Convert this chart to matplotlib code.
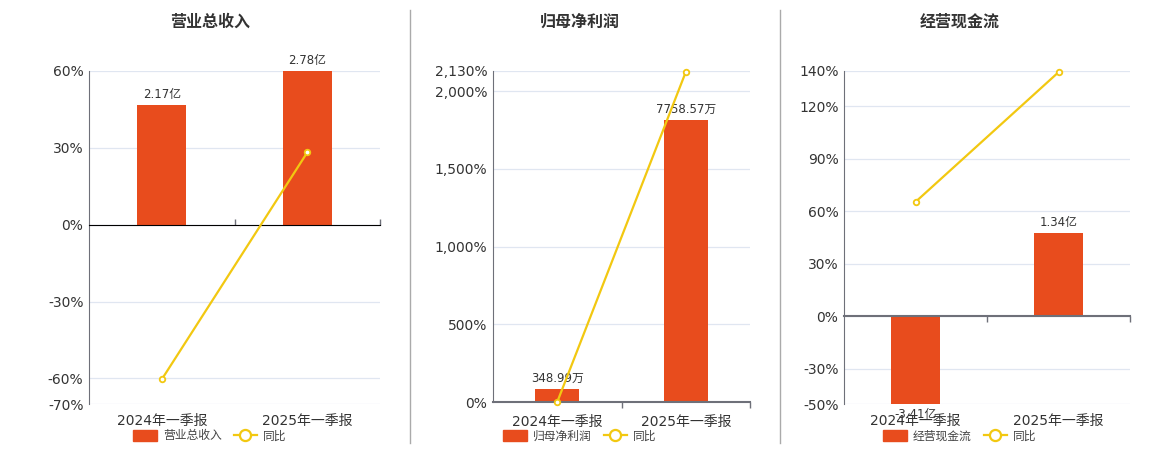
import matplotlib.pyplot as plt
from matplotlib.lines import Line2D
from matplotlib.patches import Patch

plt.rcParams['font.family'] = ['DejaVu Sans', 'Noto Sans CJK SC']

# ---- data ----
periods = ['2024年一季报', '2025年一季报']

titles = ['营业总收入', '归母净利润', '经营现金流']

rev_amount = [2.17, 2.78]          # 亿
rev_labels = ['2.17亿', '2.78亿']
rev_yoy = [-60.4, 28.2]            # %
rev_ticks = [-70, -60, -30, 0, 30, 60]

np_amount = [348.99, 7758.57]      # 万
np_labels = ['348.99万', '7758.57万']
np_yoy = [0.3, 2123.1]
np_ticks = [0, 500, 1000, 1500, 2000, 2130]

cf_amount = [-3.41, 1.34]          # 亿
cf_labels = ['-3.41亿', '1.34亿']
cf_yoy = [65.3, 139.3]
cf_ticks = [-50, -30, 0, 30, 60, 90, 120, 140]

# bar-axis range for each panel (hidden second scale)
bar_ranges = [(-70 * 2.78 / 60, 2.78), (0, 9100), (-1.42, 3.97)]

BAR = '#e84c1d'
YEL = '#f2c811'
AX = '#6e7079'
GRID = '#e0e6f1'
TXT = '#333333'

W, H = 1160, 450
boxes = [(89, 404, 291), (493, 402, 257), (844, 404, 286)]  # left, bottom(px from top), width
centers = [210, 580, 960]

fig = plt.figure(figsize=(W / 100, H / 100), dpi=100)

panels = [
    (rev_amount, rev_labels, rev_yoy, rev_ticks),
    (np_amount, np_labels, np_yoy, np_ticks),
    (cf_amount, cf_labels, cf_yoy, cf_ticks),
]

x = list(range(len(periods)))

for i, (amount, labels, yoy, ticks) in enumerate(panels):
    left, bottom, width = boxes[i]
    rect = [left / W, 1 - bottom / H, width / W, (bottom - 71) / H]

    # base axes: grid, percent ticks
    ax = fig.add_axes(rect)
    lo, hi = min(ticks), max(ticks)
    ax.set_ylim(lo, hi)
    ax.set_xlim(-0.5, len(periods) - 0.5)
    ax.set_yticks(ticks)
    ax.set_yticklabels([f'{t:,}%' for t in ticks])
    ax.grid(axis='y', color=GRID, lw=0.9)
    ax.set_xticks(x)
    ax.set_xticklabels(periods)
    ax.tick_params(axis='x', length=0, pad=(7 if bottom == 404 else 9), labelsize=10, colors=TXT)
    ax.tick_params(axis='y', length=0, pad=4, labelsize=10, colors=TXT)
    for s in ['top', 'right', 'bottom']:
        ax.spines[s].set_visible(False)
    ax.spines['left'].set_color(AX)

    # bars on their own scale
    axb = ax.twinx()
    axb.set_ylim(*bar_ranges[i])
    axb.bar(x, amount, width=0.34, color=BAR, zorder=2)
    blo = bar_ranges[i][0]
    for xi, v, lab in zip(x, amount, labels):
        yv = max(v, blo)
        off = 3 if v >= 0 else -3
        axb.annotate(lab, (xi, yv), xytext=(0, off), textcoords='offset points',
                     ha='center', va='bottom' if v >= 0 else 'top',
                     fontsize=8.5, color=TXT, annotation_clip=False)
    axb.set_yticks([])
    axb.axis('off')

    # yoy line on the percent scale
    axl = ax.twinx()
    axl.set_ylim(lo, hi)
    axl.set_xlim(-0.5, len(periods) - 0.5)
    axl.plot(x, yoy, color=YEL, lw=1.6, marker='o', ms=4, mfc='white', mec=YEL, mew=1.3,
             clip_on=False)
    axl.axis('off')

    # zero axis line with category boundary ticks
    frac = (0 - lo) / (hi - lo)
    sec = axl.secondary_xaxis(frac)
    sec.set_xticks([0.5, 1.5])
    sec.set_xticklabels([])
    sec.tick_params(length=4, width=1, color=AX, direction='out')
    sec.spines['bottom'].set_color(AX)
    sec.spines['bottom'].set_linewidth(1.5)
    sec.set_visible(True)

    # title
    fig.text(centers[i] / W, 1 - 22 / H, titles[i], ha='center', va='center',
             fontsize=11.5, fontweight='bold', color=TXT)

    # legend
    h1 = Patch(facecolor=BAR, edgecolor=BAR)
    h2 = Line2D([], [], color=YEL, lw=1.6, marker='o', ms=8, mfc='white', mec=YEL, mew=1.6)
    fig.legend([h1, h2], [titles[i], '同比'], loc='center',
               bbox_to_anchor=(centers[i] / W, 1 - 436 / H), ncol=2, frameon=False,
               fontsize=8.5, handlelength=2.0, handleheight=1.0, columnspacing=1.0,
               handletextpad=0.5, labelcolor='#444444')

# separators
for sx in [410, 780]:
    fig.add_artist(Line2D([sx / W, sx / W], [1 - 10 / H, 1 - 443 / H], color='#aaaaaa', lw=1))

fig.savefig('out.png', dpi=100)
